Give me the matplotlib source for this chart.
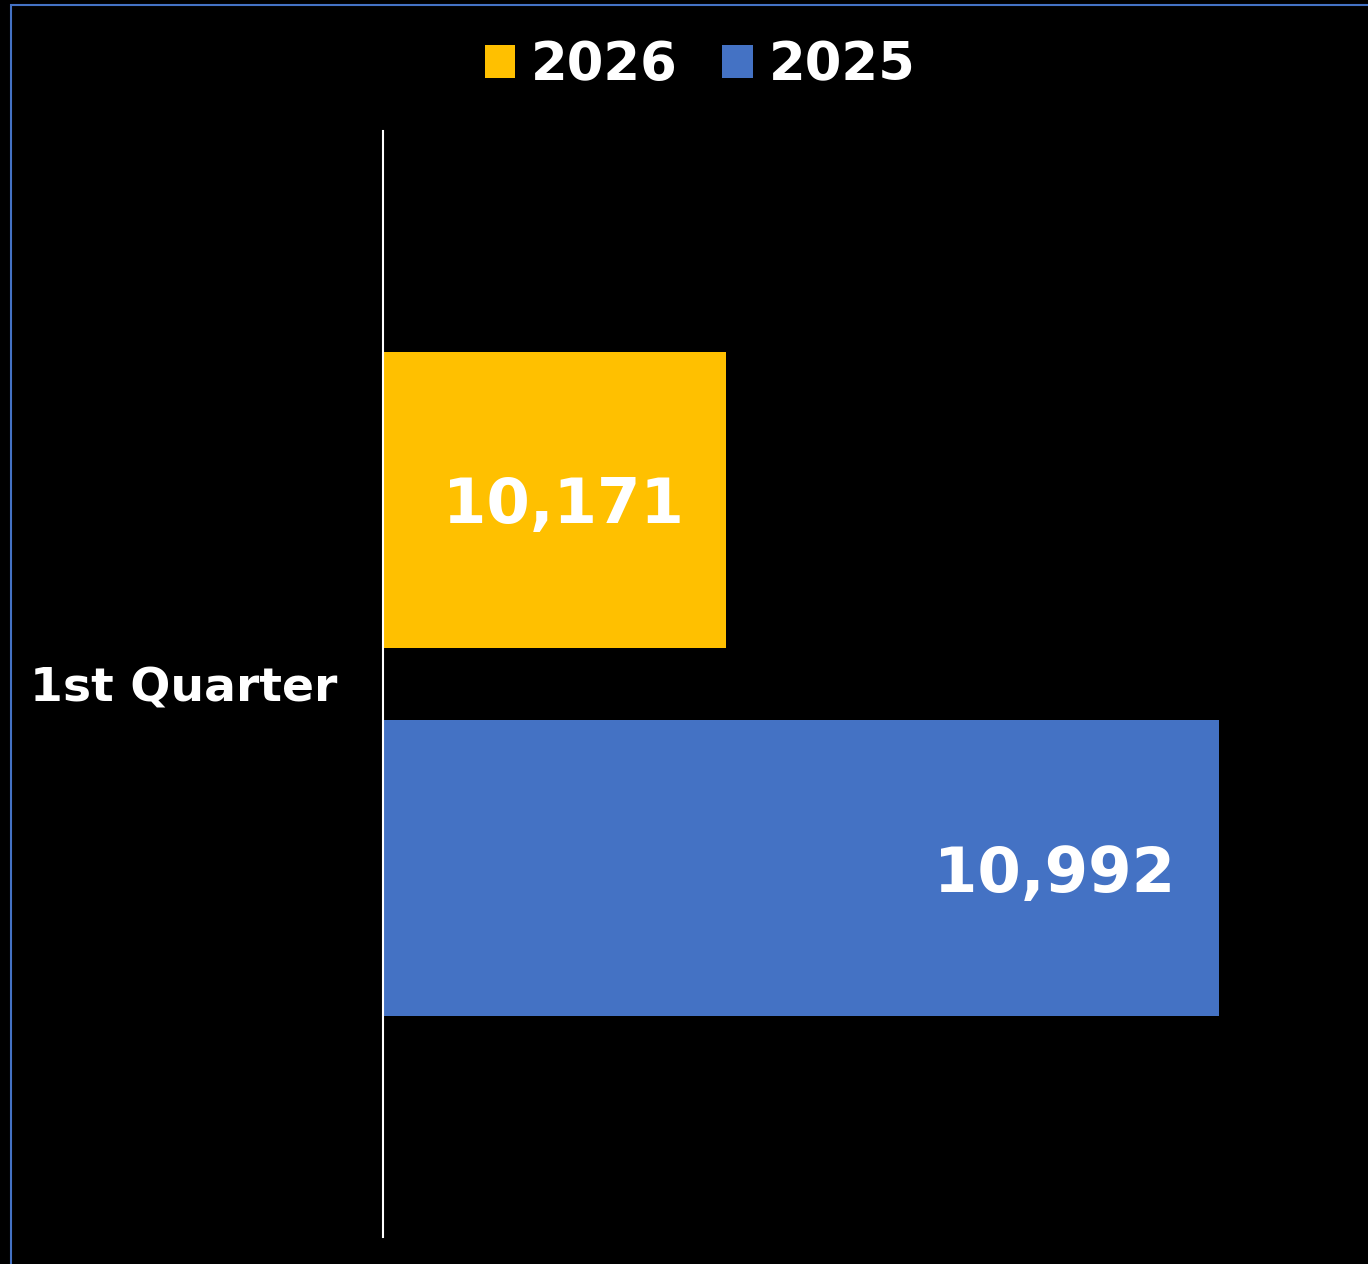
import matplotlib.pyplot as plt
from matplotlib.patches import Rectangle

# data
category = ["1st Quarter"]
series = ["2026", "2025"]
values_2026 = [10171]
values_2025 = [10992]
colors = {"2026": "#FFC000", "2025": "#4472C4"}

fig = plt.figure(figsize=(13.68, 12.64), dpi=100, facecolor="black")
ax = fig.add_axes([383 / 1368, 27 / 1264, (1342 - 383) / 1368, (1237 - 131) / 1264])
ax.set_facecolor("black")

offset = 0.1668
height = 0.2676
b26 = ax.barh([0 + offset], values_2026, height=height, color=colors["2026"], label="2026")
b25 = ax.barh([0 - offset], values_2025, height=height, color=colors["2025"], label="2025")

ax.set_xlim(9598, 11198)
ax.set_ylim(-0.5, 0.5)

# data labels, inside end
for bars, vals in [(b26, values_2026), (b25, values_2025)]:
    for rect, v in zip(bars, vals):
        ax.annotate(f"{v:,}", xy=(rect.get_x() + rect.get_width(), rect.get_y() + rect.get_height() / 2),
                    xytext=(-31, -4.5), textcoords="offset points", ha="right", va="center",
                    color="white", fontsize=45, fontweight="bold")

ax.set_xticks([])
ax.set_yticks([0])
ax.set_yticklabels(category, color="white", fontsize=34, fontweight="bold")
ax.tick_params(axis="y", length=0, pad=33)
for s in ["top", "right", "bottom"]:
    ax.spines[s].set_visible(False)
ax.spines["left"].set_color("white")
ax.spines["left"].set_linewidth(1.5)

handles, labels = ax.get_legend_handles_labels()
leg = fig.legend(handles, labels, loc="center", bbox_to_anchor=(700 / 1368, 1 - 65 / 1264),
                 ncol=2, frameon=False, prop={"size": 38, "weight": "bold"},
                 handlelength=0.57, handleheight=0.57, handletextpad=0.3, columnspacing=0.85)
for t in leg.get_texts():
    t.set_color("white")

# outer border
fig.patches.append(Rectangle((11 / 1368, -0.1), 1.2, 1 - 5 / 1264 + 0.1, transform=fig.transFigure,
                             fill=False, edgecolor="#4472C4", linewidth=1.5))

fig.savefig("out.png", dpi=100, facecolor="black")
